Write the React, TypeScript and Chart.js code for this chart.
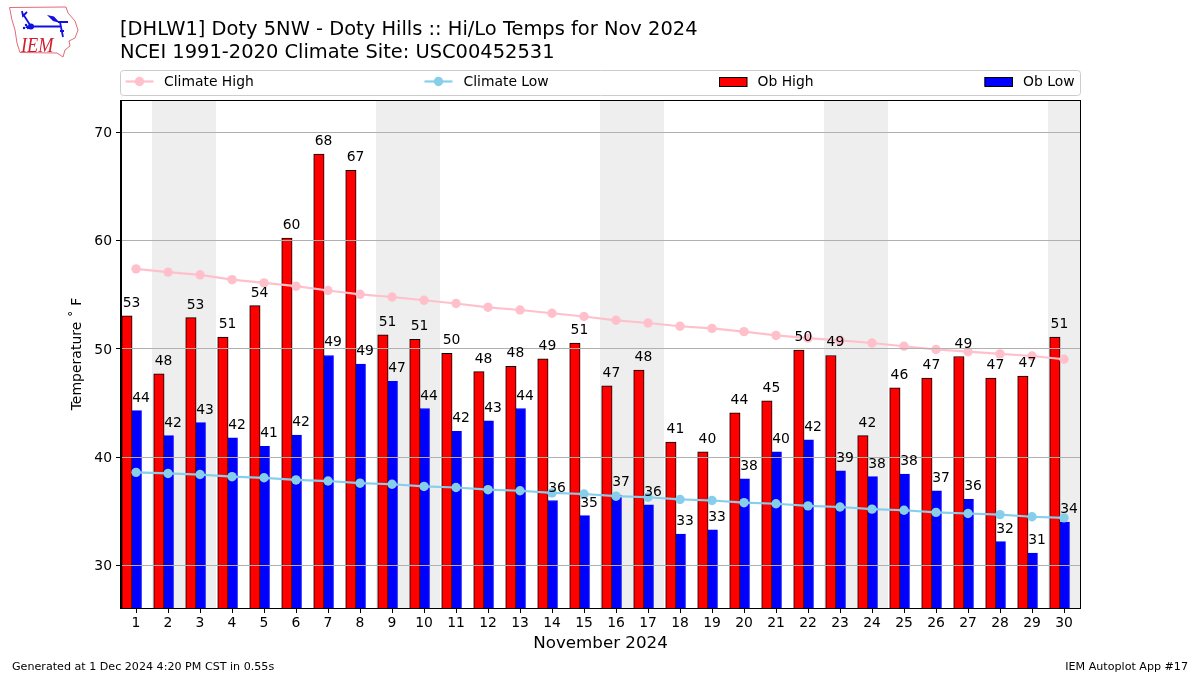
import React, { useEffect, useRef } from "react";
import { Chart, registerables } from "chart.js";

Chart.register(...registerables);

const days = [1,2,3,4,5,6,7,8,9,10,11,12,13,14,15,16,17,18,19,20,21,22,23,24,25,26,27,28,29,30];
const obHigh = [53.05,47.7,52.9,51.1,54,60.25,68,66.5,51.3,50.9,49.6,47.9,48.4,49.1,50.55,46.6,48.05,41.4,40.5,44.1,45.2,49.9,49.4,42,46.4,47.3,49.3,47.3,47.5,51.1];
const obLow = [44.3,42,43.2,41.8,41,42.05,49.4,48.6,47,44.5,42.4,43.35,44.5,36,34.6,36.5,35.6,32.9,33.3,38,40.5,41.6,38.75,38.2,38.45,36.9,36.1,32.2,31.15,34];
const highLabels = [53,48,53,51,54,60,68,67,51,51,50,48,48,49,51,47,48,41,40,44,45,50,49,42,46,47,49,47,47,51];
const lowLabels = [44,42,43,42,41,42,49,49,47,44,42,43,44,36,35,37,36,33,33,38,40,42,39,38,38,37,36,32,31,34];
const climateHigh = [57.4,57.1,56.85,56.4,56.1,55.8,55.4,55.05,54.8,54.5,54.2,53.85,53.6,53.3,53,52.65,52.4,52.1,51.9,51.6,51.25,51,50.8,50.55,50.25,49.95,49.75,49.55,49.35,49.05];
const climateLow = [38.6,38.5,38.4,38.2,38.1,37.9,37.8,37.6,37.5,37.3,37.2,37,36.9,36.7,36.6,36.4,36.3,36.1,36,35.8,35.7,35.5,35.4,35.2,35.1,34.9,34.8,34.7,34.5,34.4];
const weekendBands = [[1.5,3.5],[8.5,10.5],[15.5,17.5],[22.5,24.5],[29.5,30.5]];
const titleLines = ["[DHLW1] Doty 5NW - Doty Hills :: Hi/Lo Temps for Nov 2024","NCEI 1991-2020 Climate Site: USC00452531"];
const footerLeft = "Generated at 1 Dec 2024 4:20 PM CST in 0.55s";
const footerRight = "IEM Autoplot App #17";

const FONT = '"DejaVu Sans"';

const backgroundPlugin = {
  id: "bands",
  beforeDraw(chart: any) {
    // nudge y tick labels down so that their digits centre on the grid lines
    const s = chart.scales.y;
    s._labelItems = s._computeLabelItems(chart.chartArea);
    s._labelItems.forEach((it: any) => {
      it.options = { ...it.options, translation: [it.options.translation[0], it.options.translation[1] + 1] };
    });
  },
  beforeDatasetsDraw(chart: any) {
    const { ctx, chartArea, scales } = chart;
    ctx.save();
    ctx.fillStyle = "#eeeeee";
    for (const [a, b] of weekendBands) {
      const x0 = scales.x.getPixelForValue(a);
      const x1 = Math.min(scales.x.getPixelForValue(b), chartArea.right);
      ctx.fillRect(x0, chartArea.top, x1 - x0, chartArea.bottom - chartArea.top);
    }
    ctx.restore();
  },
};

function drawLogo(ctx: CanvasRenderingContext2D) {
  ctx.save();
  ctx.strokeStyle = "#e46a78";
  ctx.lineWidth = 1;
  ctx.beginPath();
  const outline = [[9.5,7.5],[66,7],[68,13],[75,21],[78,30],[75,38],[69,41],[70,46],[65,50],[63,57],[57,53],[20,52.5],[17,43],[15,30],[12,20]];
  outline.forEach(([x, y], i) => (i ? ctx.lineTo(x, y) : ctx.moveTo(x, y)));
  ctx.closePath();
  ctx.stroke();
  ctx.strokeStyle = "#1010e0";
  ctx.fillStyle = "#1010e0";
  ctx.lineWidth = 1.8;
  ctx.beginPath();
  ctx.moveTo(31, 26.5); ctx.lineTo(60, 26.5);
  ctx.moveTo(31, 26.5); ctx.lineTo(23, 14); ctx.moveTo(22, 11); ctx.lineTo(23, 16); ctx.lineTo(27, 12);
  ctx.moveTo(60, 22); ctx.lineTo(63, 37); ctx.moveTo(60, 31); ctx.lineTo(64, 31);
  ctx.moveTo(58, 22); ctx.lineTo(68, 22);
  ctx.stroke();
  ctx.beginPath(); ctx.arc(31, 26.5, 3, 0, Math.PI * 2); ctx.fill();
  ctx.beginPath(); ctx.moveTo(47, 15); ctx.lineTo(54, 16.5); ctx.lineTo(60, 23); ctx.lineTo(53, 21); ctx.closePath(); ctx.fill();
  ctx.beginPath(); ctx.arc(24, 28, 1.2, 0, Math.PI * 2); ctx.arc(26, 25, 1.2, 0, Math.PI * 2); ctx.arc(28, 28, 1.2, 0, Math.PI * 2); ctx.fill();
  ctx.fillStyle = "#d01c2c";
  ctx.font = 'italic 21px "Liberation Serif"';
  ctx.textAlign = "left";
  ctx.textBaseline = "alphabetic";
  ctx.translate(21, 52);
  ctx.scale(0.87, 1);
  ctx.fillText("IEM", 0, 0);
  ctx.restore();
}

const decorPlugin = {
  id: "decor",
  afterDraw(chart: any) {
    const { ctx, scales, chartArea } = chart;
    ctx.save();
    ctx.textBaseline = "alphabetic";
    ctx.textAlign = "left";

    // axes frame
    ctx.strokeStyle = "#000";
    ctx.lineWidth = 1;
    ctx.strokeRect(Math.round(chartArea.left) - 0.5, Math.round(chartArea.top) + 0.5, Math.round(chartArea.right - chartArea.left) + 1, Math.round(chartArea.bottom - chartArea.top));

    // value labels
    ctx.fillStyle = "#000";
    ctx.font = `13.9px ${FONT}`;
    days.forEach((d, i) => {
      ctx.fillText(String(highLabels[i]), scales.x.getPixelForValue(d - 0.45) + 1, scales.y.getPixelForValue(obHigh[i]) - 9);
      ctx.fillText(String(lowLabels[i]), scales.x.getPixelForValue(d - 0.15) + 1, scales.y.getPixelForValue(obLow[i]) - 9);
    });

    // title
    ctx.font = `19.44px ${FONT}`;
    ctx.fillText(titleLines[0], 120, 35);
    ctx.fillText(titleLines[1], 120, 57.5);

    // footer
    ctx.font = `11.12px ${FONT}`;
    ctx.fillStyle = "#000";
    ctx.fillText(footerLeft, 12, 670);
    ctx.textAlign = "right";
    ctx.fillText(footerRight, 1188, 670);
    ctx.textAlign = "left";

    // legend
    ctx.strokeStyle = "#cccccc";
    ctx.lineWidth = 1;
    ctx.beginPath();
    ctx.roundRect(120.5, 70.5, 960, 25, 3);
    ctx.stroke();
    const handle = (x: number, color: string) => {
      ctx.strokeStyle = color;
      ctx.fillStyle = color;
      ctx.lineWidth = 2.2;
      ctx.beginPath(); ctx.moveTo(x, 81.5); ctx.lineTo(x + 28, 81.5); ctx.stroke();
      ctx.beginPath(); ctx.arc(x + 14, 81.5, 4.7, 0, Math.PI * 2); ctx.fill();
    };
    const patch = (x: number, color: string) => {
      ctx.fillStyle = color;
      ctx.fillRect(x, 77, 28, 9.5);
      ctx.strokeStyle = "#000";
      ctx.lineWidth = 1;
      ctx.strokeRect(x + 0.5, 77.5, 27.5, 9);
    };
    handle(125.5, "#FFC0CB");
    handle(424.5, "#87CEEB");
    patch(719, "#ff0000");
    patch(984.5, "#0000ff");
    ctx.fillStyle = "#000";
    ctx.font = `13.9px ${FONT}`;
    ctx.fillText("Climate High", 164, 86);
    ctx.fillText("Climate Low", 463.5, 86);
    ctx.fillText("Ob High", 757.5, 86);
    ctx.fillText("Ob Low", 1023, 86);

    drawLogo(ctx);
    ctx.restore();
  },
};

export default function App() {
  const ref = useRef<HTMLCanvasElement>(null);
  useEffect(() => {
    const chart = new Chart(ref.current as HTMLCanvasElement, {
      type: "bar",
      data: {
        datasets: [
          {
            type: "line", label: "Climate High", order: 1,
            data: days.map((d, i) => ({ x: d, y: climateHigh[i] })),
            borderColor: "#FFC0CB", backgroundColor: "#FFC0CB", borderWidth: 2.2,
            pointRadius: 4.7, pointBorderWidth: 0, pointHoverRadius: 4.7, tension: 0,
          },
          {
            type: "line", label: "Climate Low", order: 1,
            data: days.map((d, i) => ({ x: d, y: climateLow[i] })),
            borderColor: "#87CEEB", backgroundColor: "#87CEEB", borderWidth: 2.2,
            pointRadius: 4.7, pointBorderWidth: 0, pointHoverRadius: 4.7, tension: 0,
          },
          {
            label: "Ob High", order: 2, grouped: false, barThickness: 10.4,
            data: days.map((d, i) => ({ x: d - 0.285, y: obHigh[i] })),
            backgroundColor: "#ff0000", borderColor: "#000", borderWidth: 1,
          },
          {
            label: "Ob Low", order: 2, grouped: false, barThickness: 10,
            data: days.map((d, i) => ({ x: d + 0.015, y: obLow[i] })),
            backgroundColor: "#0000ff", borderColor: "#0000ff", borderWidth: 1,
          },
        ] as any,
      },
      options: {
        responsive: false,
        animation: false,
        layout: { padding: { left: 69, right: 120, top: 100, bottom: 21 } },
        plugins: { legend: { display: false }, title: { display: false }, tooltip: { enabled: false } },
        scales: {
          x: {
            type: "linear",
            offset: false,
            min: 0.53,
            max: 30.5,
            afterFit: (s: any) => { s.height = 46; },
            ticks: {
              stepSize: 1, includeBounds: false, autoSkip: false, maxRotation: 0, maxTicksLimit: 40,
              color: "#000", font: { family: FONT, size: 13.9 }, padding: 2,
              callback: (v: any) => String(v),
            },
            grid: { offset: false, drawOnChartArea: false, drawTicks: true, tickLength: 5, tickColor: "#000", z: 1 },
            border: { color: "#000", width: 1, z: 2 },
            title: { display: true, text: "November 2024", color: "#000", font: { family: FONT, size: 16.7 }, padding: 0 },
          },
          y: {
            min: 26.07,
            max: 73,
            afterFit: (s: any) => { s.width = 52; },
            ticks: {
              stepSize: 10, includeBounds: false, color: "#000",
              font: { family: FONT, size: 13.9 }, padding: 4,
            },
            grid: { color: "#b0b0b0", lineWidth: 1, tickLength: 5, tickColor: "#000", z: 1 },
            border: { color: "#000", width: 1, z: 2 },
            title: { display: true, text: "Temperature \u02DA F", color: "#000", font: { family: FONT, size: 14 }, padding: 0 },
          },
        },
      } as any,
      plugins: [backgroundPlugin, decorPlugin] as any,
    });
    return () => chart.destroy();
  }, []);
  return (
    <div style={{ position: "absolute", left: 0, top: 0, width: 1200, height: 675, background: "#fff" }}>
      <canvas ref={ref} width={1200} height={675} style={{ display: "block" }} />
    </div>
  );
}
